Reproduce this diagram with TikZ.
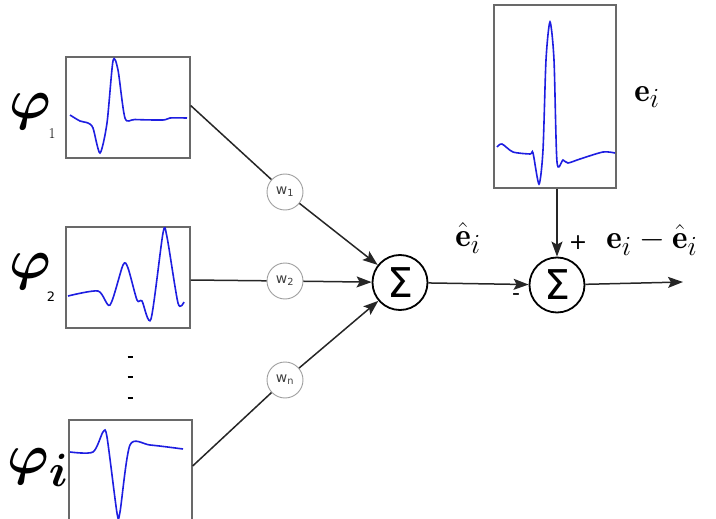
\documentclass[tikz,border=0pt]{standalone}
\usepackage{amsmath,bm}
\usepackage{fontspec}
\newfontfamily\dejavu{DejaVu Sans}
\usetikzlibrary{arrows.meta}
\definecolor{wave}{RGB}{30,30,225}
\definecolor{boxgray}{RGB}{105,105,105}
\tikzset{
  sigbox/.style={draw=boxgray, line width=1.3pt, inner sep=0pt, fill=white},
  wavel/.style={wave, line width=1.6pt, smooth, tension=0.45},
  wnode/.style={circle, draw=gray!75, line width=0.9pt, minimum size=36pt, inner sep=0pt, font=\dejavu\fontsize{14}{14}\selectfont, text=black!75},
  sumnode/.style={circle, draw=black, line width=1.8pt, minimum size=55pt, inner sep=0pt, font=\dejavu\fontsize{41}{41}\selectfont},
  conn/.style={line width=1.5pt, draw=black!85},
  arr/.style={conn, -{Stealth[length=15pt,width=11pt,inset=3pt]}},
  biglabel/.style={inner sep=0pt, font=\Huge, scale=1.33},
  philabel/.style={inner sep=0pt, font=\Huge, scale=2.25},
  subl/.style={inner sep=0pt, font=\fontsize{15}{15}\selectfont},
  pm/.style={inner sep=0pt, font=\dejavu\fontsize{22}{22}\selectfont},
}
\begin{document}
\begin{tikzpicture}[x=1pt,y=-1pt]
\useasboundingbox (0,0) rectangle (716,519);

% boxes
\node[sigbox, minimum width=124pt, minimum height=101pt] (b1) at (128,107.5) {};
\node[sigbox, minimum width=124pt, minimum height=101pt] (b2) at (128,277.5) {};
\node[sigbox, minimum width=123pt, minimum height=104pt] (b3) at (130.5,472) {};
\node[sigbox, minimum width=122pt, minimum height=183pt] (be) at (555,96.5) {};

% waveforms
\draw[wavel] plot coordinates {(70,115) (80,121) (88,123) (93,128) (100,153) (107,123) (113,61) (118,70) (125,118) (135,119.5) (163,120) (170,118) (187,118)};
\draw[wavel] plot coordinates {(68,296) (98,291) (110,305) (123,265) (128,268) (137,300) (142,301) (151,319) (163,233) (167,237) (178,303) (184,302)};
\draw[wavel] plot coordinates {(70,452) (93,452) (103,432) (107,437) (117,513) (120,512) (130,445) (150,445) (183,449)};
\draw[wavel] plot coordinates {(497,147) (502,144) (513,152) (530,154) (533,153) (539,184) (543,150) (546,60) (550,22) (554,60) (557,162) (563,160) (568,163) (580,159) (603,152) (615,153)};

% phi labels
\node[philabel] (p1) at (30,112) {$\bm{\varphi}$};
\node[subl] (p1s) at (52,134) {1};
\node[philabel] (p2) at (30,272) {$\bm{\varphi}$};
\node[subl, font=\dejavu\fontsize{13}{13}\selectfont] (p2s) at (51,297) {2};
\node[philabel] (p3) at (38,468) {$\bm{\varphi}_{\bm{i}}$};

% vertical dots
\foreach \yy [count=\k] in {357,377,398}{
  \draw[line width=2.2pt] (127.5,\yy) -- (132.5,\yy);
}

% weights and sums
\node[wnode] (w1) at (285,192) {w\textsubscript{1}};
\node[wnode] (w2) at (285,281) {w\textsubscript{2}};
\node[wnode] (wn) at (285,380) {w\textsubscript{n}};
\node[sumnode] (s1) at (400,282.5) {Σ};
\node[sumnode] (s2) at (557,285) {Σ};
\coordinate (out) at (683,282);

% connectors
\draw[conn] ([yshift=2pt]b1.east) -- (w1);
\draw[conn] ([yshift=-2.5pt]b2.east) -- (w2);
\draw[conn] ([yshift=6pt]b3.east) -- (wn);
\draw[arr] (w1) -- (s1);
\draw[arr] (w2) -- (s1);
\draw[arr] (wn) -- (s1);
\draw[arr] (s1) -- (s2);
\draw[arr] (be.south -| s2) -- (s2);
\draw[arr] (s2) -- (out);

% labels
\node[biglabel] (ehat) at (468,238) {$\hat{\mathbf{e}}_i$};
\node[biglabel] (ei) at (647,97) {$\mathbf{e}_i$};
\node[biglabel] (diff) at (652,240) {$\mathbf{e}_i - \hat{\mathbf{e}}_i$};
\node[pm] (plus) at (578,243) {+};
\node[pm] (minus) at (516,297) {-};
\end{tikzpicture}
\end{document}
